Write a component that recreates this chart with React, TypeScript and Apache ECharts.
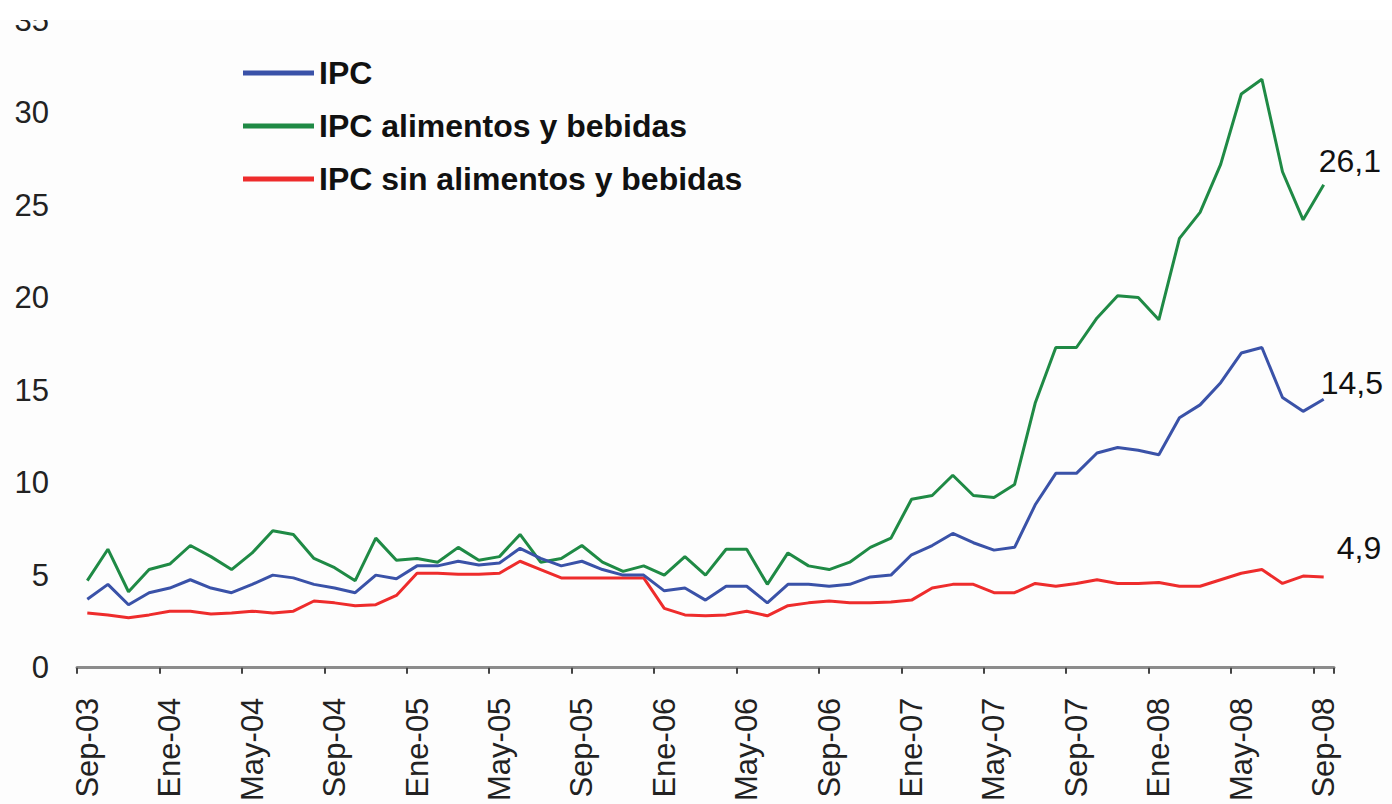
import React, { useEffect, useRef } from "react";
import * as echarts from "echarts";

const categories = [
  "Sep-03", "Oct-03", "Nov-03", "Dic-03",
  "Ene-04", "Feb-04", "Mar-04", "Abr-04", "May-04", "Jun-04", "Jul-04", "Ago-04", "Sep-04", "Oct-04", "Nov-04", "Dic-04",
  "Ene-05", "Feb-05", "Mar-05", "Abr-05", "May-05", "Jun-05", "Jul-05", "Ago-05", "Sep-05", "Oct-05", "Nov-05", "Dic-05",
  "Ene-06", "Feb-06", "Mar-06", "Abr-06", "May-06", "Jun-06", "Jul-06", "Ago-06", "Sep-06", "Oct-06", "Nov-06", "Dic-06",
  "Ene-07", "Feb-07", "Mar-07", "Abr-07", "May-07", "Jun-07", "Jul-07", "Ago-07", "Sep-07", "Oct-07", "Nov-07", "Dic-07",
  "Ene-08", "Feb-08", "Mar-08", "Abr-08", "May-08", "Jun-08", "Jul-08", "Ago-08", "Sep-08",
];

const ipc = [
  3.7, 4.5, 3.4, 4.05, 4.3, 4.75, 4.3, 4.05, 4.5, 5.0, 4.85, 4.5, 4.3, 4.05, 5.0, 4.8,
  5.5, 5.5, 5.75, 5.55, 5.65, 6.45, 5.9, 5.5, 5.75, 5.3, 5.0, 5.0,
  4.15, 4.3, 3.65, 4.4, 4.4, 3.5, 4.5, 4.5, 4.4, 4.5, 4.9, 5.0,
  6.1, 6.6, 7.25, 6.75, 6.35, 6.5, 8.8, 10.5, 10.5, 11.6, 11.9, 11.75,
  11.5, 13.5, 14.2, 15.4, 17.0, 17.3, 14.6, 13.85, 14.5,
];

const ipcAlimentos = [
  4.7, 6.4, 4.1, 5.3, 5.6, 6.6, 6.0, 5.3, 6.2, 7.4, 7.2, 5.9, 5.4, 4.7, 7.0, 5.8,
  5.9, 5.7, 6.5, 5.8, 6.0, 7.2, 5.7, 5.9, 6.6, 5.7, 5.2, 5.5,
  5.0, 6.0, 5.0, 6.4, 6.4, 4.5, 6.2, 5.5, 5.3, 5.7, 6.5, 7.0,
  9.1, 9.3, 10.4, 9.3, 9.2, 9.9, 14.3, 17.3, 17.3, 18.9, 20.1, 20.0,
  18.8, 23.2, 24.6, 27.2, 31.0, 31.8, 26.8, 24.2, 26.1,
];

const ipcSinAlimentos = [
  2.95, 2.85, 2.7, 2.85, 3.05, 3.05, 2.9, 2.95, 3.05, 2.95, 3.05, 3.6, 3.5, 3.35, 3.4, 3.9,
  5.1, 5.1, 5.05, 5.05, 5.1, 5.75, 5.3, 4.85, 4.85, 4.85, 4.85, 4.85,
  3.2, 2.85, 2.8, 2.85, 3.05, 2.8, 3.35, 3.5, 3.6, 3.5, 3.5, 3.55,
  3.65, 4.3, 4.5, 4.5, 4.05, 4.05, 4.55, 4.4, 4.55, 4.75, 4.55, 4.55,
  4.6, 4.4, 4.4, 4.75, 5.1, 5.3, 4.55, 4.95, 4.9,
];

const seriesNames = ["IPC", "IPC alimentos y bebidas", "IPC sin alimentos y bebidas"];
const seriesColors = ["#3a52a8", "#1f8a45", "#ee2c2c"];
const endLabelOffsets = [
  [-8, -16],
  [-10, -24],
  [8, -29],
];

const FONT = "'Liberation Sans', Arial, sans-serif";

export default function App() {
  const ref = useRef<HTMLDivElement>(null);

  useEffect(() => {
    document.body.style.margin = "0";
    document.body.style.background = "#ffffff";
    const chart = echarts.init(ref.current!, undefined, { renderer: "svg" });
    const datas = [ipc, ipcAlimentos, ipcSinAlimentos];
    chart.setOption({
      animation: false,
      backgroundColor: "transparent",
      grid: { left: 77, right: 58, top: 20, bottom: 131, containLabel: false },
      legend: {
        orient: "vertical",
        left: 238,
        top: 52,
        icon: "rect",
        itemWidth: 71,
        itemHeight: 5,
        itemGap: 21,
        data: seriesNames,
        textStyle: {
          fontSize: 32,
          lineHeight: 32,
          fontFamily: FONT,
          fontWeight: "bold",
          color: "#111",
        },
      },
      xAxis: {
        type: "category",
        data: categories,
        boundaryGap: true,
        axisLine: { show: true, lineStyle: { color: "#8c8c8c", width: 3 } },
        axisTick: { show: true, interval: 3, length: 6, lineStyle: { color: "#444", width: 2 } },
        axisLabel: {
          interval: 3,
          rotate: 90,
          margin: 30,
          fontSize: 31,
          fontFamily: FONT,
          color: "#222",
        },
        splitLine: { show: false },
      },
      yAxis: {
        type: "value",
        min: 0,
        max: 35,
        interval: 5,
        axisLine: { show: false },
        axisTick: { show: false },
        splitLine: { show: false },
        axisLabel: { margin: 28, fontSize: 31, fontFamily: FONT, color: "#222" },
      },
      series: seriesNames.map((name, k) => ({
        name,
        type: "line",
        data: datas[k],
        showSymbol: false,
        symbol: "none",
        color: seriesColors[k],
        lineStyle: { width: 3, color: seriesColors[k] },
        z: 3 - k,
        endLabel: {
          show: true,
          distance: 5,
          offset: endLabelOffsets[k],
          fontSize: 32,
          fontFamily: FONT,
          color: "#111",
          formatter: (p: any) => String(p.value).replace(".", ","),
        },
      })),
    });
    return () => chart.dispose();
  }, []);

  return (
    <div
      style={{
        position: "fixed",
        left: 0,
        top: 20,
        width: 1392,
        height: 784,
        overflow: "hidden",
        background: "#fdfdfd",
      }}
    >
      <div ref={ref} style={{ position: "absolute", left: 0, top: -20, width: 1392, height: 804 }} />
    </div>
  );
}
